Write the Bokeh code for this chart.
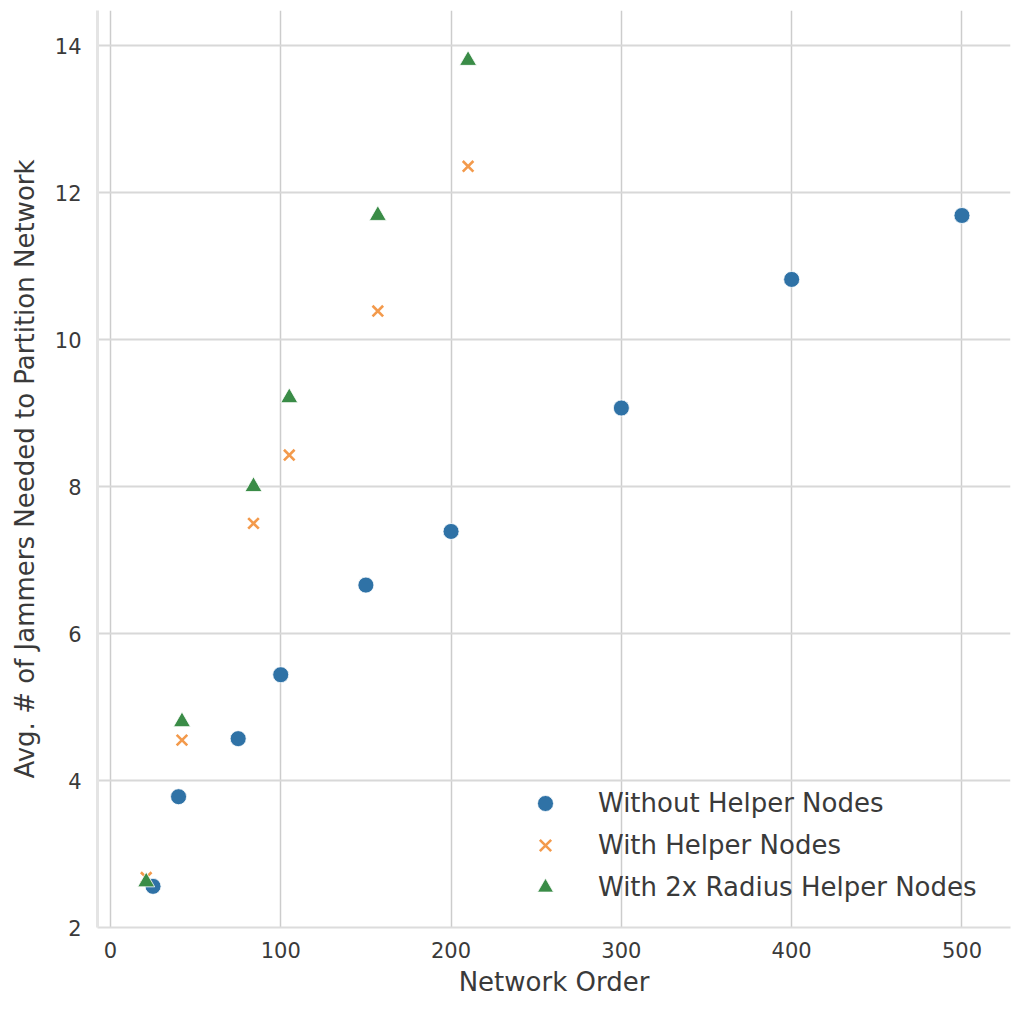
from bokeh.plotting import figure
from bokeh.models import Range1d
from bokeh.embed import file_html
from bokeh.resources import INLINE

# ---- data ----
order_without = [25, 40, 75, 100, 150, 200, 300, 400, 500]
jammers_without = [2.56, 3.78, 4.57, 5.44, 6.66, 7.39, 9.07, 10.82, 11.69]

order_helper = [21, 42, 84, 105, 157, 210]
jammers_helper = [2.68, 4.55, 7.50, 8.43, 10.39, 12.36]

order_helper2x = [21, 42, 84, 105, 157, 210]
jammers_helper2x = [2.62, 4.80, 8.00, 9.21, 11.69, 13.80]

x_ticks = [0, 100, 200, 300, 400, 500]
y_ticks = [2, 4, 6, 8, 10, 12, 14]

labels = ["Without Helper Nodes", "With Helper Nodes", "With 2x Radius Helper Nodes"]
colors = ["#2f72a6", "#f39a4c", "#3a8c47"]

FONT = "DejaVu Sans"
TXT = "#3a3a3a"

p = figure(width=1019, height=1009, output_backend="svg", toolbar_location=None,
           x_range=Range1d(-7.6, 528.5), y_range=Range1d(2.0, 14.48),
           min_border_left=97, min_border_right=9, min_border_top=10, min_border_bottom=82)

p.background_fill_color = "white"
p.border_fill_color = "white"
p.outline_line_color = None

p.xaxis.ticker = x_ticks
p.yaxis.ticker = y_ticks
p.xaxis.axis_label = "Network Order"
p.yaxis.axis_label = "Avg. # of Jammers Needed to Partition Network"

for ax in (p.xaxis, p.yaxis):
    ax.major_tick_line_color = None
    ax.minor_tick_line_color = None
    ax.major_label_text_font = FONT
    ax.major_label_text_font_size = "21px"
    ax.major_label_text_color = TXT
    ax.axis_label_text_font = FONT
    ax.axis_label_text_font_size = "26px"
    ax.axis_label_text_font_style = "normal"
    ax.axis_label_text_color = TXT
    ax.axis_line_color = "#dcdcdc"
    ax.axis_line_width = 2

p.yaxis.axis_line_width = 3
p.yaxis.axis_line_color = "#e4e4e4"
p.yaxis.major_label_standoff = 10
p.xaxis.major_label_standoff = 8
p.yaxis.axis_label_standoff = 12
p.xaxis.axis_label_standoff = 6

p.xgrid.grid_line_color = "#cccccc"
p.xgrid.grid_line_width = 1.5
p.ygrid.grid_line_color = "#d8d8d8"
p.ygrid.grid_line_width = 2

p.scatter(order_without, jammers_without, marker="circle", size=16,
          fill_color=colors[0], line_color="white", line_width=0.8,
          legend_label=labels[0])
p.scatter(order_helper, jammers_helper, marker="x", size=15,
          line_color=colors[1], line_width=2.6,
          legend_label=labels[1])
p.scatter(order_helper2x, jammers_helper2x, marker="triangle", size=17,
          fill_color=colors[2], line_color="white", line_width=0.8,
          legend_label=labels[2])

lg = p.legend[0]
lg.location = (428, 20)
lg.border_line_alpha = 0
lg.background_fill_alpha = 0
lg.padding = 0
lg.margin = 0
lg.spacing = 2
lg.glyph_width = 40
lg.glyph_height = 40
lg.label_height = 40
lg.label_standoff = 33
lg.label_text_font = FONT
lg.label_text_font_size = "26px"
lg.label_text_color = TXT

open("out.html", "w").write(file_html(p, INLINE))
